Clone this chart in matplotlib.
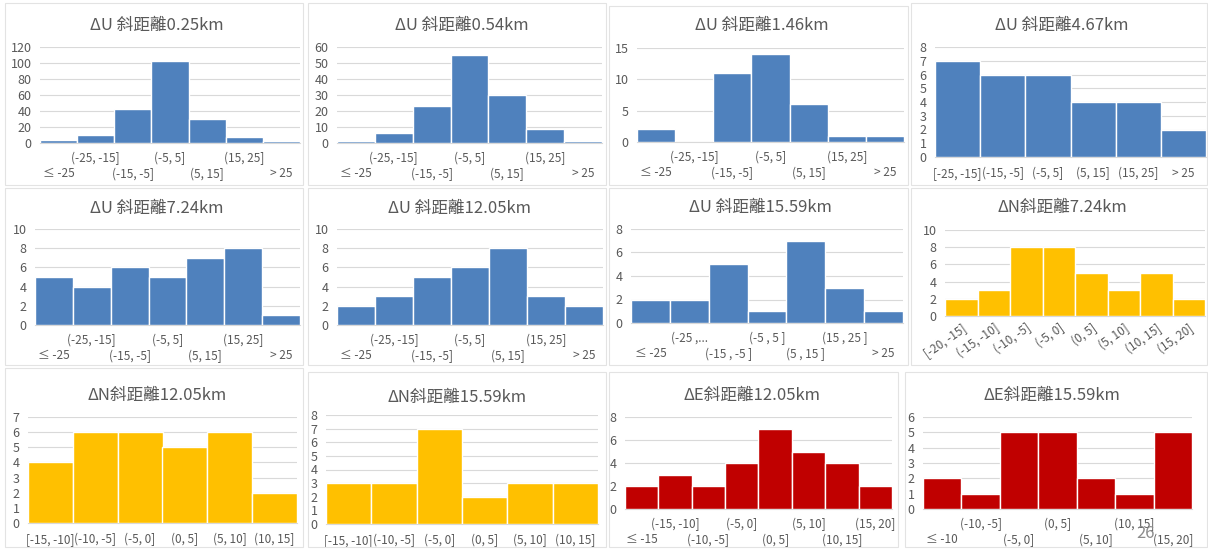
import matplotlib.pyplot as plt
from matplotlib.patches import Rectangle

plt.rcParams['font.family'] = ['Noto Sans CJK TC', 'DejaVu Sans']

W, H = 1208, 549
BLUE = '#4F81BD'
GOLD = '#FFC000'
RED = '#C00000'
TXT = '#595959'
GRID = '#D9D9D9'

# category labels
u_labels = ['≤ -25', '(-25, -15]', '(-15, -5]', '(-5, 5]', '(5, 15]', '(15, 25]', '> 25']
u_labels_467 = ['[-25, -15]', '(-15, -5]', '(-5, 5]', '(5, 15]', '(15, 25]', '> 25']
u_labels_1559 = ['≤ -25', '(-25 ,...', '(-15 , -5 ]', '(-5 , 5 ]', '(5 , 15 ]', '(15 , 25 ]', '> 25']
n_labels_724 = ['[-20, -15]', '(-15, -10]', '(-10, -5]', '(-5, 0]', '(0, 5]', '(5, 10]', '(10, 15]', '(15, 20]']
n_labels = ['[-15, -10]', '(-10, -5]', '(-5, 0]', '(0, 5]', '(5, 10]', '(10, 15]']
e_labels_1205 = ['≤ -15', '(-15, -10]', '(-10, -5]', '(-5, 0]', '(0, 5]', '(5, 10]', '(10, 15]', '(15, 20]']
e_labels_1559 = ['≤ -10', '(-10, -5]', '(-5, 0]', '(0, 5]', '(5, 10]', '(10, 15]', '(15, 20]']

# counts
u_025 = [4, 10, 43, 103, 30, 8, 3]
u_054 = [1, 6, 23, 55, 30, 9, 1]
u_146 = [2, 0, 11, 14, 6, 1, 1]
u_467 = [7, 6, 6, 4, 4, 2]
u_724 = [5, 4, 6, 5, 7, 8, 1]
u_1205 = [2, 3, 5, 6, 8, 3, 2]
u_1559 = [2, 2, 5, 1, 7, 3, 1]
n_724 = [2, 3, 8, 8, 5, 3, 5, 2]
n_1205 = [4, 6, 6, 5, 6, 2]
n_1559 = [3, 3, 7, 2, 3, 3]
e_1205 = [2, 3, 2, 4, 7, 5, 4, 2]
e_1559 = [2, 1, 5, 5, 2, 1, 5]

titles = ['ΔU 斜距離0.25km', 'ΔU 斜距離0.54km', 'ΔU 斜距離1.46km', 'ΔU 斜距離4.67km',
          'ΔU 斜距離7.24km', 'ΔU 斜距離12.05km', 'ΔU 斜距離15.59km', 'ΔN斜距離7.24km',
          'ΔN斜距離12.05km', 'ΔN斜距離15.59km', 'ΔE斜距離12.05km', 'ΔE斜距離15.59km']

# (data, labels, color, ymax, ystep, label mode, axes px box x0,x1,ytop,ybase, title px x,y)
panels = [
    (u_025, u_labels, BLUE, 120, 20, 'stagger', (40, 300, 47, 143), (157, 25)),
    (u_054, u_labels, BLUE, 60, 10, 'stagger', (337, 602, 47, 143), (462, 25)),
    (u_146, u_labels, BLUE, 15, 5, 'stagger', (637, 904, 48, 142), (762, 25)),
    (u_467, u_labels_467, BLUE, 8, 1, 'flat', (935, 1206, 47, 157), (1062, 25)),
    (u_724, u_labels, BLUE, 10, 2, 'stagger', (35, 300, 229, 325), (157, 208)),
    (u_1205, u_labels, BLUE, 10, 2, 'stagger', (337, 603, 229, 325), (460, 208)),
    (u_1559, u_labels_1559, BLUE, 8, 2, 'stagger', (631, 903, 229, 323), (760, 207)),
    (n_724, n_labels_724, GOLD, 10, 2, 'rotate', (945, 1205, 230, 316), (1062, 207)),
    (n_1205, n_labels, GOLD, 7, 1, 'flat', (28, 297, 417, 523), (157, 395)),
    (n_1559, n_labels, GOLD, 8, 1, 'flat', (326, 598, 415, 524), (457, 397)),
    (e_1205, e_labels_1205, RED, 8, 2, 'stagger', (625, 892, 417, 509), (752, 395)),
    (e_1559, e_labels_1559, RED, 6, 1, 'stagger', (923, 1192, 417, 509), (1052, 395)),
]

frames = [(5, 3, 303, 185), (308, 3, 606, 185), (609, 6, 908, 185), (911, 3, 1207, 185),
          (5, 188, 303, 365), (308, 188, 606, 365), (609, 188, 908, 365), (911, 188, 1207, 365),
          (5, 368, 303, 547), (308, 372, 606, 547), (609, 372, 898, 547), (905, 372, 1207, 547)]

fig = plt.figure(figsize=(W / 100, H / 100), dpi=100)
fig.patch.set_facecolor('white')

for fx0, fy0, fx1, fy1 in frames:
    fig.patches.append(Rectangle((fx0 / W, 1 - fy1 / H), (fx1 - fx0) / W, (fy1 - fy0) / H,
                                 transform=fig.transFigure, fill=False,
                                 edgecolor='#E3E3E3', lw=0.8))

for (vals, labels, color, ymax, ystep, mode, box, tpos), title in zip(panels, titles):
    x0, x1, yt, yb = box
    ax = fig.add_axes([x0 / W, 1 - yb / H, (x1 - x0) / W, (yb - yt) / H])
    x = list(range(len(vals)))
    ax.bar(x, vals, width=1.0, color=color, edgecolor='white', linewidth=1, zorder=3)
    ax.set_xlim(-0.5, len(vals) - 0.5)
    ax.set_ylim(0, ymax)
    ax.set_yticks(list(range(0, ymax + 1, ystep)))
    ax.yaxis.grid(True, color=GRID, lw=0.8, zorder=0)
    for s in ['top', 'right', 'left']:
        ax.spines[s].set_visible(False)
    ax.spines['bottom'].set_color(GRID)
    ax.tick_params(which='both', length=0, labelsize=8.5, colors=TXT)
    ax.tick_params(axis='y', pad=6, labelsize=9)
    if mode == 'stagger':
        # Excel-style staggered labels: odd categories on top row, even ones below
        upper = [i for i in x if i % 2 == 1]
        lower = [i for i in x if i % 2 == 0]
        ax.set_xticks(upper)
        ax.set_xticklabels([labels[i] for i in upper])
        ax.set_xticks(lower, minor=True)
        ax.set_xticklabels([labels[i] for i in lower], minor=True)
        ax.tick_params(axis='x', which='major', pad=6.5)
        ax.tick_params(axis='x', which='minor', pad=17.5)
    elif mode == 'rotate':
        ax.set_xticks(x)
        ax.set_xticklabels(labels, rotation=35, ha='right', rotation_mode='anchor')
        ax.tick_params(axis='x', pad=4)
    else:
        ax.set_xticks(x)
        ax.set_xticklabels(labels)
        ax.tick_params(axis='x', pad=7)
    fig.text(tpos[0] / W, 1 - tpos[1] / H, title, ha='center', va='center',
             fontsize=12, color=TXT)

fig.text(1146 / W, 1 - 534 / H, '26', ha='center', va='center', fontsize=12, color='#8C8C8C')

fig.savefig('out.png', dpi=100, facecolor='white')
